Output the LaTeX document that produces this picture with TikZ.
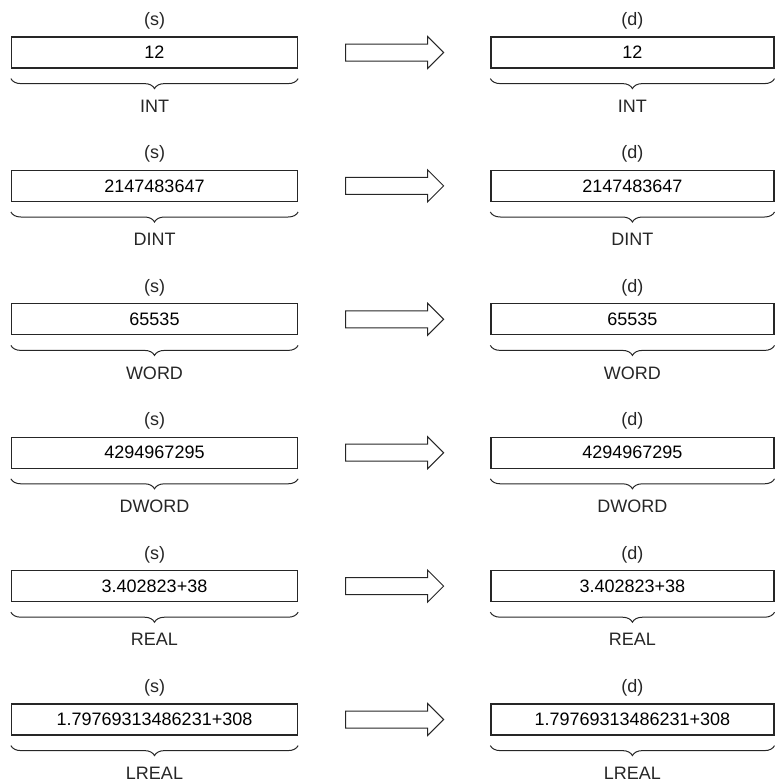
\documentclass[tikz,border=0pt]{standalone}
\usepackage{fontspec}
\setmainfont{Liberation Sans}
\usetikzlibrary{positioning, shapes.arrows, decorations.pathreplacing}

\begin{document}
\begin{tikzpicture}[
    x=1pt, y=-1pt,
    font=\fontsize{18}{21}\selectfont,
    valbox/.style={
      draw=black!85,
      line width=1.2pt,
      minimum width=286pt,
      minimum height=31pt,
      inner sep=0pt
    },
    tag/.style={inner sep=0pt, text=black!85},
    conv/.style={
      single arrow,
      draw=black!85,
      line width=1pt,
      minimum height=98pt,
      inner xsep=0pt,
      inner ysep=8pt,
      single arrow head extend=7.5pt
    },
    brc/.style={decorate, decoration={brace, mirror, amplitude=10pt}, draw=black!85, line width=1pt}
  ]
  \useasboundingbox (0,0) rectangle (775,782);

  \foreach \val/\typ [count=\i from 0] in {12/INT, 2147483647/DINT, 65535/WORD, 4294967295/DWORD, 3.402823+38/REAL, 1.79769313486231+308/LREAL} {
    % source side
    \node[valbox] (src\i) at (154.5, 52.5+133.4*\i) {\val};
    \node[tag, above=7pt of src\i] (srcname\i) {(s)};
    \node[tag, below=31pt of src\i] (srctype\i) {\typ};
    \draw[brc] ([yshift=-10pt]src\i.south west) -- ([yshift=-10pt]src\i.south east);

    % transfer arrow
    \node[conv, right=47pt of src\i] (cv\i) {};

    % destination side
    \node[valbox, minimum width=283pt, right=46pt of cv\i] (dst\i) {\val};
    \node[tag, above=7pt of dst\i] (dstname\i) {(d)};
    \node[tag, below=31pt of dst\i] (dsttype\i) {\typ};
    \draw[brc] ([yshift=-10pt]dst\i.south west) -- ([yshift=-10pt]dst\i.south east);
  }
\end{tikzpicture}
\end{document}
